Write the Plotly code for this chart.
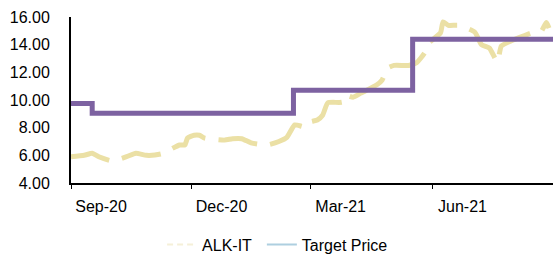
import plotly.graph_objects as go

# ALK-IT share price
price_dates = ["2020-09-01","2020-09-11","2020-09-17","2020-09-22","2020-10-02","2020-10-13","2020-10-20",
               "2020-10-28","2020-11-08","2020-11-22","2020-11-26","2020-11-28","2020-12-03","2020-12-07",
               "2020-12-11","2020-12-26","2021-01-01","2021-01-08","2021-01-15","2021-01-27","2021-02-05",
               "2021-02-11","2021-02-17","2021-02-25","2021-02-28","2021-03-06","2021-03-10","2021-03-14",
               "2021-03-25","2021-03-27","2021-04-02","2021-04-08","2021-04-20","2021-04-24","2021-04-28",
               "2021-05-03","2021-05-14","2021-05-20","2021-05-26","2021-05-29","2021-06-07","2021-06-09",
               "2021-06-13","2021-06-21","2021-07-03","2021-07-08","2021-07-14","2021-07-20","2021-07-23",
               "2021-07-31","2021-08-08","2021-08-15","2021-08-22","2021-08-26","2021-08-28"]
price_values = [5.9, 6.0, 6.15, 5.9, 5.6, 5.9, 6.15,
                6.0, 6.1, 6.75, 6.75, 7.25, 7.45, 7.45,
                7.25, 7.1, 7.2, 7.2, 6.9, 6.75, 7.0,
                7.3, 8.2, 8.05, 8.4, 8.55, 8.9, 9.8,
                9.85, 10.35, 10.2, 10.5, 11.1, 11.45, 12.3,
                12.5, 12.5, 12.7, 13.4, 14.1, 14.85, 15.65,
                15.4, 15.4, 14.9, 14.0, 13.75, 12.75, 13.9,
                14.3, 14.6, 14.85, 14.95, 15.6, 15.2]

# Target price (step line)
target_dates = ["2020-09-01", "2020-09-17", "2021-02-16", "2021-05-17", "2021-08-31"]
target_values = [9.75, 9.05, 10.7, 14.4, 14.4]

tick_dates = ["2020-09-01", "2020-12-01", "2021-03-01", "2021-06-01"]
tick_labels = ["Sep-20", "Dec-20", "Mar-21", "Jun-21"]
y_ticks = [4, 6, 8, 10, 12, 14, 16]

FONT = "Liberation Sans, Arial, sans-serif"
PRICE_COLOR = "#EBE0A5"
TARGET_COLOR = "#7D62A1"

fig = go.Figure()
fig.add_trace(go.Scatter(x=price_dates, y=price_values, mode="lines",
                         line=dict(color=PRICE_COLOR, width=5, dash="40px,13px", shape="spline", smoothing=0.5),
                         showlegend=False, hoverinfo="skip"))
fig.add_trace(go.Scatter(x=target_dates, y=target_values, mode="lines",
                         line=dict(color=TARGET_COLOR, width=5, shape="hv"),
                         showlegend=False, hoverinfo="skip"))
# legend entries
fig.add_trace(go.Scatter(x=[None], y=[None], mode="lines", name="ALK-IT", legend="legend",
                         line=dict(color="#F5F0D8", width=2, dash="6px,4px")))
fig.add_trace(go.Scatter(x=[None], y=[None], mode="lines", name="Target Price", legend="legend2",
                         line=dict(color="#AECFE0", width=2)))

legend_common = dict(orientation="h", xanchor="left", y=-0.268, yanchor="top", itemwidth=30,
                     font=dict(family=FONT, size=16), bgcolor="rgba(0,0,0,0)")

fig.update_layout(
    width=555, height=254,
    margin=dict(l=71, r=2, t=17, b=71, autoexpand=False),
    paper_bgcolor="white", plot_bgcolor="white",
    font=dict(family=FONT, size=16, color="#000000"),
    showlegend=True,
    legend=dict(x=0.189, **legend_common),
    legend2=dict(x=0.396, **legend_common),
)
fig.update_xaxes(
    type="date", range=["2020-09-01", "2021-08-31"], automargin=False,
    tickmode="array", tickvals=tick_dates, ticktext=tick_labels,
    ticks="outside", ticklen=4, tickcolor="#000", tickwidth=1,
    ticklabelshift=30, ticklabelstandoff=4,
    showline=True, linecolor="#000", linewidth=2, showgrid=False, zeroline=False,
    tickfont=dict(family=FONT, size=16),
)
fig.update_yaxes(
    range=[4, 16], tickmode="array", tickvals=y_ticks, tickformat=".2f", automargin=False,
    ticks="", showline=True, linecolor="#000", linewidth=2, showgrid=False, zeroline=False,
    ticklabelstandoff=16, tickfont=dict(family=FONT, size=16),
)
fig.write_html("out.html", config={"displayModeBar": False, "staticPlot": True},
               post_script="document.body.style.margin='0';document.body.style.overflow='hidden';")
